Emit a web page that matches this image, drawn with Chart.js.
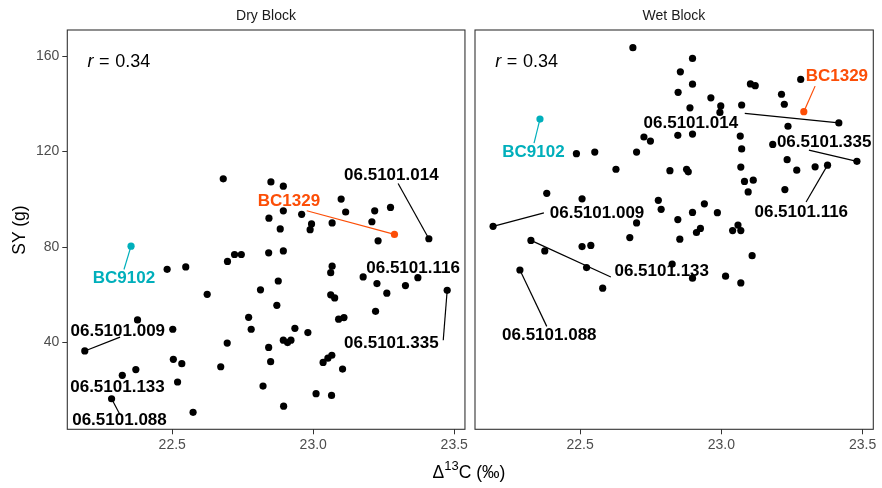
<!DOCTYPE html>
<html><head><meta charset="utf-8">
<script src="https://cdn.jsdelivr.net/npm/chart.js@4.4.1/dist/chart.umd.min.js"></script>
<style>
html,body{margin:0;padding:0;background:#fff;}
#wrap{position:relative;width:882px;height:488px;overflow:hidden;font-family:"Liberation Sans",Arial,sans-serif;background:#fff;}
canvas{position:absolute;top:0;}
.t{position:absolute;white-space:nowrap;text-align:center;}
</style></head><body>
<div id="wrap">
<canvas id="dry" width="470" height="488" style="left:0;width:470px;height:488px"></canvas>
<canvas id="wet" width="412" height="488" style="left:470px;width:412px;height:488px"></canvas>
<div class="t" style="left:216px;top:5px;width:100px;height:20px;line-height:20px;font-size:14px;color:#1a1a1a">Dry Block</div>
<div class="t" style="left:624px;top:5px;width:100px;height:20px;line-height:20px;font-size:14px;color:#1a1a1a">Wet Block</div>
<div class="t" style="left:-31px;top:219.5px;width:100px;height:20px;line-height:20px;font-size:17.5px;color:#000;transform:rotate(-90deg)">SY (g)</div>
<div class="t" style="left:369px;top:461.7px;width:200px;height:20px;line-height:20px;font-size:17.5px;color:#000">&Delta;<span style="font-size:13px;position:relative;top:-8px">13</span>C (&permil;)</div>
</div>
<script>
// ---- data ----
const xTicks = [22.5, 23.0, 23.5];
const yTicks = [40, 80, 120, 160];
const labelNames = ['06.5101.014','BC1329','BC9102','06.5101.116','06.5101.335','06.5101.009','06.5101.133','06.5101.088'];
const highlight = {'BC1329':'#FC4E07','BC9102':'#00AFBB'};
const corrText = {dry: '0.34', wet: '0.34'};

// first 8 entries correspond to labelNames
const dryDelta = [23.410,23.288,22.354,23.371,23.475,22.190,22.323,22.285,
 22.681,22.850,22.894,23.099,23.274,22.894,23.115,23.218,22.843,22.959,22.994,23.067,23.208,22.883,22.989,
 23.230,22.721,22.745,22.696,22.842,22.894,22.482,22.548,23.067,23.062,23.177,23.226,23.327,22.876,22.813,
 22.624,23.062,23.076,23.261,22.871,23.221,22.771,23.090,23.109,22.377,22.502,22.780,22.935,22.981,22.894,
 22.909,22.921,22.695,22.842,22.504,22.534,22.849,22.672,23.035,23.052,23.066,23.104,22.371,22.519,22.822,
 23.010,23.065,22.895,22.574];
const drySY = [83.5,85.3,80.4,67.2,61.9,36.5,26.3,16.5,
 108.6,107.3,105.5,100.1,96.6,95.2,94.7,95.2,92.1,93.7,89.7,90.1,90.6,87.6,87.3,
 82.6,76.9,76.9,74.0,77.6,78.4,70.7,71.7,72.0,69.3,67.5,64.7,63.9,65.8,62.1,
 60.2,60.0,58.7,60.7,55.6,53.1,50.6,49.8,50.5,49.5,45.6,45.6,46.0,44.2,41.0,
 40.0,41.0,39.8,38.0,33.0,31.2,32.0,29.9,31.7,33.5,34.7,28.9,28.7,23.5,21.8,
 18.6,17.9,13.4,10.8];
const wetDelta = [23.416,23.292,22.358,23.376,23.480,22.192,22.326,22.287,
 22.687,22.898,22.855,22.898,23.103,23.120,23.281,23.213,23.223,22.847,22.963,22.998,22.995,22.889,23.072,
 23.236,22.846,22.898,22.726,22.749,23.067,23.072,23.182,22.487,22.552,22.700,23.069,23.233,23.267,23.332,
 22.627,22.818,22.877,22.883,23.082,23.113,23.095,23.225,22.382,22.507,22.777,22.787,22.940,22.898,22.986,
 22.846,22.700,22.926,22.912,23.059,23.040,23.069,22.375,22.507,22.538,22.523,22.676,22.853,23.109,22.826,
 22.898,23.015,23.069,22.580];
const wetSY = [132.0,136.7,133.6,114.3,115.9,88.7,82.8,70.4,
 163.5,159.0,153.4,148.2,148.3,147.6,150.2,144.0,139.8,144.8,142.5,139.1,136.4,138.3,139.5,
 130.6,126.8,127.3,126.1,124.4,126.5,121.1,123.0,119.1,119.8,119.8,113.5,116.6,112.2,113.6,
 112.6,112.0,112.6,111.5,107.5,108.0,103.1,104.1,102.5,100.2,99.6,95.8,98.1,94.5,94.4,
 91.5,90.1,87.8,86.1,89.2,86.9,86.9,78.4,80.2,80.7,71.4,84.0,83.3,76.4,72.9,
 67.0,67.8,65.0,62.8];

// ---- label layout (data coordinates of label centres and segment starts, in labelNames order) ----
const dryLabelAt = [[23.277,110.1],[22.914,99.0],[22.329,66.8],[23.354,71.0],[23.277,39.8],[22.307,44.7],[22.306,21.4],[22.313,7.4]];
const drySegFrom = [[23.301,106.6],[22.977,95.2],[22.329,70.6],null,[23.461,41.0],[22.315,42.3],null,[22.315,9.8]];
const wetLabelAt = [[22.892,132.0],[23.409,151.3],[22.335,119.5],[23.283,94.5],[23.364,123.7],[22.560,94.1],[22.789,70.0],[22.391,42.9]];
const wetSegFrom = [[23.083,136.0],[23.332,147.4],[22.337,123.5],[23.300,98.9],[23.310,120.6],[22.372,94.3],[22.609,67.5],[22.382,46.8]];

const colorOf = n => highlight[n] || '#000000';
const FONT = '"Liberation Sans", Arial, sans-serif';
Chart.defaults.font.family = FONT;

const annot = {
  id: 'annot',
  afterDatasetsDraw(chart, args, opts) {
    const {ctx, chartArea: a, scales: {x, y}} = chart;
    ctx.save();
    ctx.lineWidth = 1.2;
    opts.names.forEach((n, i) => {
      const s = opts.seg[i];
      if (!s) return;
      ctx.strokeStyle = colorOf(n);
      ctx.beginPath();
      ctx.moveTo(x.getPixelForValue(s[0]), y.getPixelForValue(s[1]));
      ctx.lineTo(x.getPixelForValue(opts.px[i]), y.getPixelForValue(opts.py[i]));
      ctx.stroke();
    });
    ctx.font = 'bold 17px ' + FONT;
    ctx.textAlign = 'center';
    ctx.textBaseline = 'middle';
    opts.names.forEach((n, i) => {
      const p = opts.at[i];
      ctx.fillStyle = colorOf(n);
      ctx.fillText(n, x.getPixelForValue(p[0]), y.getPixelForValue(p[1]));
    });
    const rx = x.getPixelForValue(22.2), ry = y.getPixelForValue(157.6);
    ctx.fillStyle = '#000';
    ctx.textAlign = 'left';
    ctx.font = 'italic 18px ' + FONT;
    ctx.fillText('r', rx, ry);
    ctx.font = '18px ' + FONT;
    ctx.fillText('=', rx + 11.5, ry);
    ctx.fillText(opts.r, rx + 27.6, ry);
    ctx.strokeStyle = '#333333';
    ctx.lineWidth = 1.1;
    ctx.strokeRect(a.left, a.top, a.right - a.left, a.bottom - a.top);
    ctx.restore();
  }
};

function makeChart(id, xs, ys, names, at, seg, r, showY, pad) {
  const pts = xs.map((v, i) => ({x: v, y: ys[i]}));
  const cols = xs.map((v, i) => i < names.length ? colorOf(names[i]) : '#000000');
  return new Chart(document.getElementById(id), {
    type: 'scatter',
    data: {datasets: [{data: pts, pointRadius: 3.6, pointHoverRadius: 3.6, pointBorderWidth: 0,
      pointBackgroundColor: cols, pointBorderColor: cols}]},
    options: {
      responsive: false, animation: false, devicePixelRatio: 1,
      layout: {padding: pad},
      plugins: {legend: {display: false}, tooltip: {enabled: false},
        annot: {names: names, at: at, seg: seg, px: xs, py: ys, r: r}},
      scales: {
        x: {type: 'linear', min: 22.128, max: 23.538,
          afterBuildTicks: s => { s.ticks = xTicks.map(v => ({value: v})); },
          afterFit: s => { s.height = 58.7; },
          ticks: {callback: v => Number(v).toFixed(1), color: '#4d4d4d', font: {size: 14}, padding: 2, maxRotation: 0, autoSkip: false},
          grid: {drawOnChartArea: false, drawTicks: true, tickLength: 5, tickColor: '#333333', tickWidth: 1},
          border: {display: false}},
        y: {type: 'linear', min: 3.7, max: 170.9, display: showY,
          afterBuildTicks: s => { s.ticks = yTicks.map(v => ({value: v})); },
          afterFit: s => { s.width = showY ? 67.3 : 0; },
          ticks: {callback: v => String(v), color: '#4d4d4d', font: {size: 14}, padding: 3, autoSkip: false},
          grid: {drawOnChartArea: false, drawTicks: true, tickLength: 5, tickColor: '#333333', tickWidth: 1},
          border: {display: false}}
      }
    },
    plugins: [annot]
  });
}

makeChart('dry', dryDelta, drySY, labelNames, dryLabelAt, drySegFrom, corrText.dry, true, {top: 30, right: 5, left: 0, bottom: 0});
makeChart('wet', wetDelta, wetSY, labelNames, wetLabelAt, wetSegFrom, corrText.wet, false, {top: 30, right: 8.7, left: 5, bottom: 0});
</script>
</body></html>
